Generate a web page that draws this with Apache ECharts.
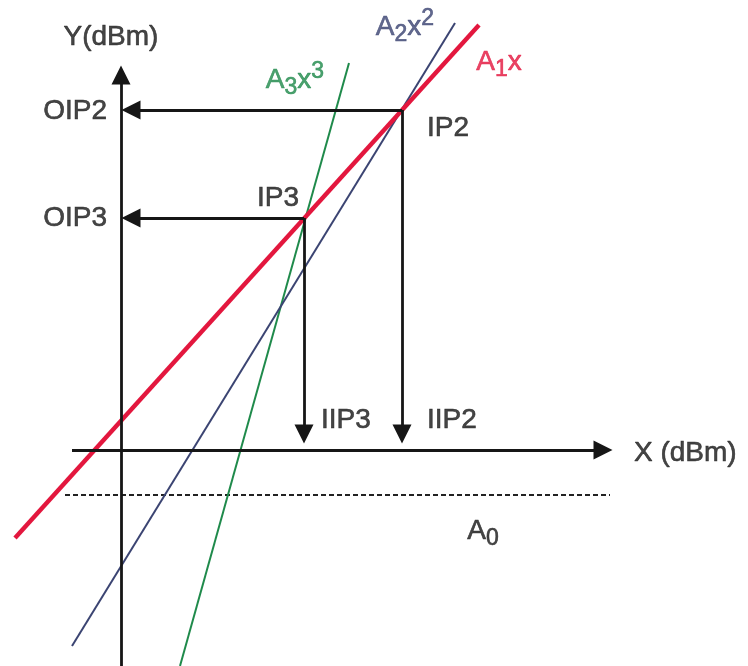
<!DOCTYPE html>
<html><head><meta charset="utf-8">
<script src="https://cdn.jsdelivr.net/npm/echarts@6/dist/echarts.min.js"></script>
<style>html,body{margin:0;padding:0;background:#fff}#c{width:748px;height:666px}</style>
</head><body><div id="c"></div>
<script>
// Transfer curves: [input (dBm), output (dBm)] end points
const fundamental = [[-10.6, -8.8], [35.8, 42.5]];   // A1x
const secondOrder = [[-4.9, -19.6], [33.4, 42.7]];   // A2x^2
const thirdOrder  = [[5.9, -21.6], [22.8, 38.7]];    // A3x^3
const noiseFloor  = [[-5.6, -4.5], [48.9, -4.5]];    // A0
// Axis spans
const xAxisSpan = [[-4.9, 0], [48.2, 0]];
const yAxisSpan = [[0, -21.6], [0, 37.5]];
// Intercept points
const IP2 = [28.1, 34.0];
const IP3 = [18.3, 23.2];
const outArrowEnd = 1.0;   // where OIP arrows stop on the Y axis
const inArrowEnd = 1.6;    // where IIP arrows stop on the X axis
const A0Anchor = [36.2, -4.5];
// Texts
const curveLabels = ['A{s|1}x', 'A{s|2}x{p|2}', 'A{s|3}x{p|3}'];
const axisLabels = ['X (dBm)', 'Y(dBm)'];
const pointLabels = ['IP2', 'IP3', 'OIP2', 'OIP3', 'IIP2', 'IIP3'];
const floorLabel = 'A{s|0}';

const RED = '#e3173e', NAVY = '#3b4472', GREEN = '#1f8a4b', INK = '#161616';
const FONT = "'Liberation Sans', Arial, sans-serif";
const FS = 28;
const rich = {
  s: {fontSize: 23, fontFamily: FONT, padding: [15, 0, 0, 0]},
  p: {fontSize: 23, fontFamily: FONT, padding: [0, 0, 17, 0]}
};

function lbl(value, text, color, position, distance, offset) {
  const stroke = {textBorderColor: color, textBorderWidth: 0.6};
  return {
    value: value,
    label: Object.assign({
      show: true, formatter: text, color: color, fontSize: FS, fontFamily: FONT,
      position: position, distance: distance, offset: offset,
      rich: {
        s: Object.assign({color: color}, stroke, rich.s),
        p: Object.assign({color: color}, stroke, rich.p)
      }
    }, stroke)
  };
}

function curve(data, color, width, dashed) {
  return {
    type: 'line', data: data, showSymbol: false, silent: true, animation: false,
    lineStyle: {color: color, width: width, type: dashed ? [5, 3] : 'solid'}, z: 2
  };
}

const arrows = [
  {coords: xAxisSpan},
  {coords: yAxisSpan},
  {coords: [IP2, [outArrowEnd, IP2[1]]]},
  {coords: [IP3, [outArrowEnd, IP3[1]]]},
  {coords: [IP2, [IP2[0], inArrowEnd]]},
  {coords: [IP3, [IP3[0], inArrowEnd]]}
];

const chart = echarts.init(document.getElementById('c'), null, {renderer: 'canvas'});
chart.setOption({
  animation: false,
  backgroundColor: '#fff',
  grid: {left: 0, right: 0, top: 0, bottom: 0},
  xAxis: {type: 'value', min: -12.1, max: 62.7, show: false},
  yAxis: {type: 'value', min: -21.6, max: 45, show: false},
  series: [
    curve(noiseFloor, '#222', 2, true),
    curve(thirdOrder, GREEN, 2),
    curve(secondOrder, NAVY, 2),
    curve(fundamental, RED, 4.4),
    {
      type: 'lines', coordinateSystem: 'cartesian2d', silent: true, z: 3,
      symbol: ['none', 'triangle'], symbolSize: [17, 19],
      lineStyle: {color: INK, width: 2.8, opacity: 1, curveness: 0},
      data: arrows
    },
    {
      type: 'scatter', symbolSize: 0, silent: true, z: 4,
      data: [
        lbl(xAxisSpan[1], axisLabels[0], INK, 'right', 31, [0, 3]),
        lbl(yAxisSpan[1], axisLabels[1], INK, 'inside', 0, [-10, -38]),
        lbl(IP2, pointLabels[0], INK, 'right', 25, [0, 18]),
        lbl(IP3, pointLabels[1], INK, 'left', 5, [0, -20]),
        lbl([0, IP2[1]], pointLabels[2], INK, 'left', 14, [0, 1]),
        lbl([0, IP3[1]], pointLabels[3], INK, 'left', 14, [0, 0]),
        lbl([IP2[0], 0], pointLabels[4], INK, 'right', 25, [0, -30]),
        lbl([IP3[0], 0], pointLabels[5], INK, 'right', 17, [0, -30]),
        lbl(A0Anchor, floorLabel, INK, 'inside', 0, [0, 36]),
        lbl(fundamental[1], curveLabels[0], RED, 'inside', 0, [20, 37]),
        lbl(secondOrder[1], curveLabels[1], NAVY, 'inside', 0, [-50, 4]),
        lbl(thirdOrder[1], curveLabels[2], GREEN, 'inside', 0, [-54, 17])
      ]
    }
  ]
});
</script></body></html>
